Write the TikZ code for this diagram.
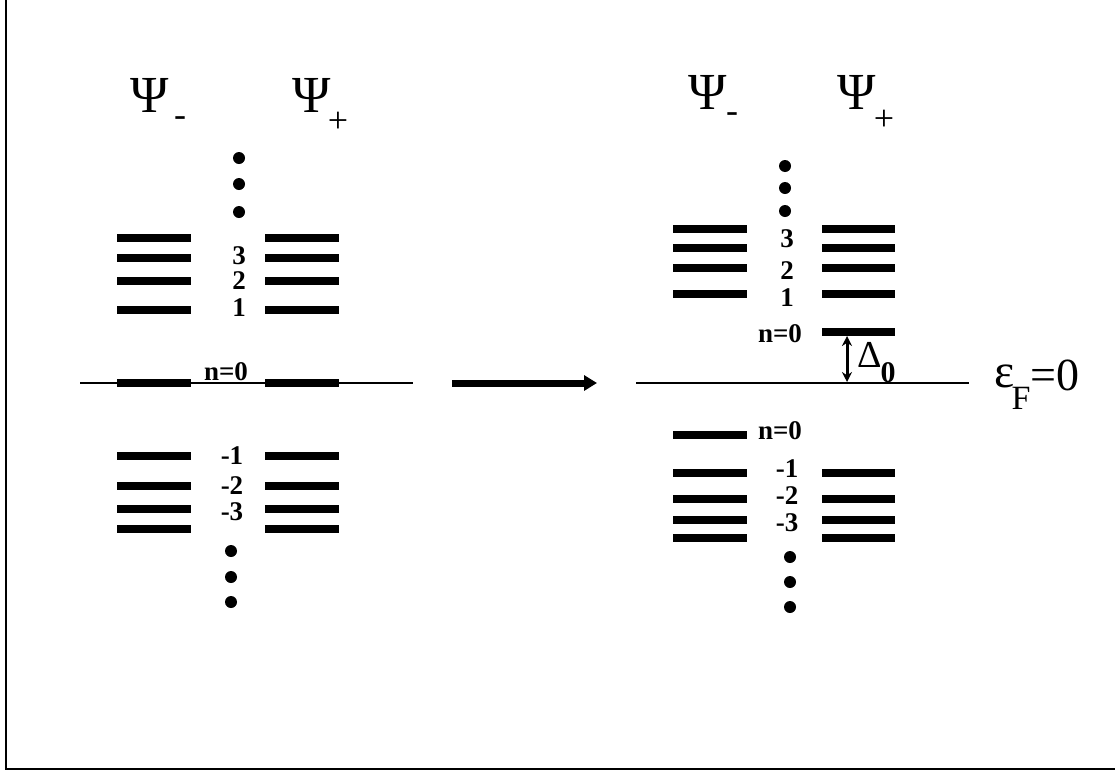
\documentclass[tikz,border=0pt]{standalone}
\usepackage{fontspec}
\setmainfont{Liberation Serif}
\usetikzlibrary{arrows.meta}
\tikzset{
  lvl/.style={line width=8pt},
  fermi/.style={line width=1.3pt},
  lab/.style={inner sep=0pt,font=\fontsize{27}{27}\selectfont\bfseries},
  psi/.style={inner sep=0pt,font=\fontsize{52}{52}\selectfont},
  sub/.style={inner sep=0pt,font=\fontsize{36}{36}\selectfont},
  dot/.style={fill=black,circle,inner sep=0pt,minimum size=12pt},
}
\begin{document}
\begin{tikzpicture}[x=1pt,y=-1pt]
\useasboundingbox (0,0) rectangle (1115,774);
% frame
\draw[line width=1.5pt] (6,0) -- (6,769) -- (1115,769);

% ---------- left panel ----------
\draw[fermi] (80,383) -- (413,383);
\foreach \y in {238,258,281,310,383,456,486,509,529}{
  \draw[lvl] (117,\y) -- (191,\y);
  \draw[lvl] (265,\y) -- (339,\y);
}
\node[psi] (Lpsim) at (150,95) {Ψ};
\node[sub] (Lsm) at (180,122) {-};
\node[psi] (Lpsip) at (312,95) {Ψ};
\node[sub] (Lsp) at (338,122) {+};
\node[dot] (Ld1) at (239,158) {};
\node[dot] (Ld2) at (239,184) {};
\node[dot] (Ld3) at (239,212) {};
\node[lab] (L3) at (239,256) {3};
\node[lab] (L2) at (239,281) {2};
\node[lab] (L1) at (239,308) {1};
\node[lab] (L0) at (226,372) {n=0};
\node[lab] (Lm1) at (232,456) {-1};
\node[lab] (Lm2) at (232,486) {-2};
\node[lab] (Lm3) at (232,512) {-3};
\node[dot] (Ld4) at (231,551) {};
\node[dot] (Ld5) at (231,577) {};
\node[dot] (Ld6) at (231,602) {};

% ---------- transition arrow ----------
\coordinate (As) at (452,383);
\coordinate (Ae) at (597,383);
\draw[line width=7pt,-{Triangle[length=13pt,width=15pt]}] (As) -- (Ae);

% ---------- right panel ----------
\draw[fermi] (636,383) -- (969,383);
\foreach \y in {229,248,268,294,473,499,520,538}{
  \draw[lvl] (673,\y) -- (747,\y);
  \draw[lvl] (822,\y) -- (895,\y);
}
\draw[lvl] (822,332) -- (895,332);
\draw[lvl] (673,435) -- (747,435);
\node[psi] (Rpsim) at (708,92) {Ψ};
\node[sub] (Rsm) at (732,118) {-};
\node[psi] (Rpsip) at (857,92) {Ψ};
\node[sub] (Rsp) at (884,120) {+};
\node[dot] (Rd1) at (785,166) {};
\node[dot] (Rd2) at (785,188) {};
\node[dot] (Rd3) at (785,211) {};
\node[lab] (R3) at (787,239) {3};
\node[lab] (R2) at (787,271) {2};
\node[lab] (R1) at (787,298) {1};
\node[lab] (R0) at (780,334) {n=0};
\node[lab] (R0b) at (780,431) {n=0};
\node[lab] (Rm1) at (787,469) {-1};
\node[lab] (Rm2) at (787,496) {-2};
\node[lab] (Rm3) at (787,523) {-3};
\node[dot] (Rd4) at (790,557) {};
\node[dot] (Rd5) at (790,582) {};
\node[dot] (Rd6) at (790,607) {};

% gap arrow
\coordinate (Gt) at (847,336);
\coordinate (Gb) at (847,382);
\draw[line width=3pt,{Stealth[length=10pt,width=10pt]}-{Stealth[length=10pt,width=10pt]}] (Gt) -- (Gb);
\node[inner sep=0pt,font=\fontsize{38}{38}\selectfont] (Dl) at (870,355) {Δ};
\node[inner sep=0pt,font=\fontsize{30}{30}\selectfont\bfseries] (Dsub) at (888,373) {0};

% Fermi level label
\node[inner sep=0pt,font=\fontsize{48}{48}\selectfont] (eps) at (1005,376) {ε};
\node[inner sep=0pt,font=\fontsize{34}{34}\selectfont] (epsF) at (1021,398) {F};
\node[inner sep=0pt,font=\fontsize{46}{46}\selectfont] (eq0) at (1055,375) {=0};
\end{tikzpicture}
\end{document}
